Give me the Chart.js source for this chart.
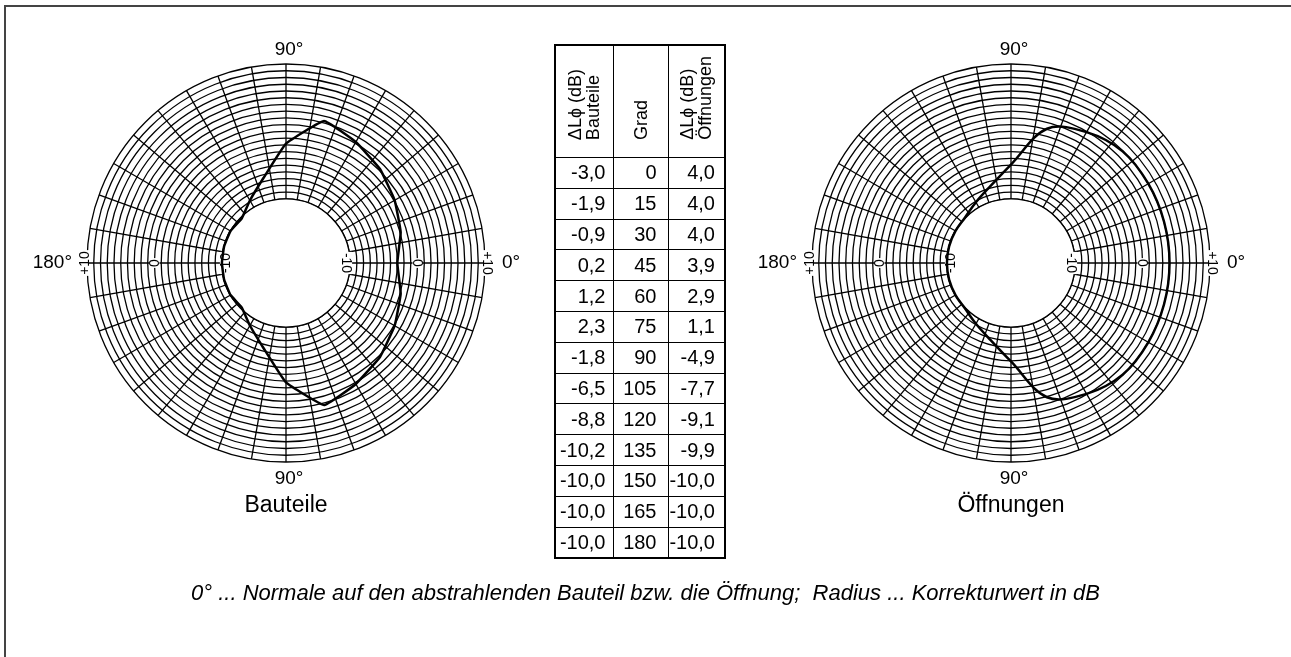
<!DOCTYPE html>
<html>
<head>
<meta charset="utf-8">
<script src="https://cdn.jsdelivr.net/npm/chart.js@4.4.1/dist/chart.umd.min.js"></script>
<style>
  html, body { margin: 0; padding: 0; background: #fff; overflow: hidden; }
  body { width: 1291px; height: 657px; position: relative; font-family: "Liberation Sans", Arial, sans-serif; color: #000; }
  .frame { position: absolute; left: 4px; top: 5px; width: 1400px; height: 800px; border-left: 2px solid #444; border-top: 2px solid #444; }
  canvas.polar { position: absolute; left: 0; top: 0; }
  .caption { position: absolute; top: 491px; width: 200px; text-align: center; font-size: 23px; }
  .footer { position: absolute; left: 0; width: 1291px; top: 580px; text-align: center; font-size: 22px; font-style: italic; white-space: pre; }
  #tbl { position: absolute; left: 554px; top: 44px; border-collapse: collapse; border: 2px solid #000; font-size: 20px; }
  #tbl th, #tbl td { border: 1px solid #000; padding: 0; }
  #tbl th { height: 94px; vertical-align: bottom; font-weight: normal; padding-bottom: 17px; }
  #tbl td { height: 29.8px; text-align: right; line-height: 29px; }
  .vt { writing-mode: vertical-rl; transform: rotate(180deg); font-size: 18px; line-height: 18px; text-align: left; margin: 0 auto; }
</style>
</head>
<body>
<div class="frame"></div>
<canvas class="polar" id="polarA" width="1291" height="657"></canvas>
<canvas class="polar" id="polarB" width="1291" height="657"></canvas>

<table id="tbl">
  <colgroup><col style="width:58px"><col style="width:55px"><col style="width:57px"></colgroup>
  <thead>
    <tr>
      <th><div class="vt">ΔLϕ (dB)<br>Bauteile</div></th>
      <th><div class="vt">Grad</div></th>
      <th><div class="vt">ΔLϕ (dB)<br>Öffnungen</div></th>
    </tr>
  </thead>
  <tbody id="tbody"></tbody>
</table>

<div class="caption" style="left:186px">Bauteile</div>
<div class="caption" style="left:911px">Öffnungen</div>
<div class="footer">0° ... Normale auf den abstrahlenden Bauteil bzw. die Öffnung;  Radius ... Korrekturwert in dB</div>

<script>
const angles = [0, 15, 30, 45, 60, 75, 90, 105, 120, 135, 150, 165, 180];
const bauteile = [-3.0, -1.9, -0.9, 0.2, 1.2, 2.3, -1.8, -6.5, -8.8, -10.2, -10.0, -10.0, -10.0];
const oeffnungen = [4.0, 4.0, 4.0, 3.9, 2.9, 1.1, -4.9, -7.7, -9.1, -9.9, -10.0, -10.0, -10.0];
const ringTickValues = [-10, 0, 10];
const ringTickLabels = ['-10', '0', '+10'];

const fmt = v => v.toFixed(1).replace('.', ',');

// fill the table
const tbody = document.getElementById('tbody');
angles.forEach((a, i) => {
    const tr = document.createElement('tr');
    tr.innerHTML = `<td style="padding-right:7px">${fmt(bauteile[i])}</td>` +
                   `<td style="padding-right:11px">${a}</td>` +
                   `<td style="padding-right:9px">${fmt(oeffnungen[i])}</td>`;
    tbody.appendChild(tr);
});

// 5 degree steps all around, clockwise from the right (0..355)
const stepLabels = [];
for (let i = 0; i < 72; i++) stepLabels.push(i * 5);

// mirror the 0..180 values onto both halves of the circle
function expand(series) {
    return stepLabels.map(deg => {
        const a = deg <= 180 ? deg : 360 - deg;
        const idx = angles.indexOf(a);
        return idx >= 0 ? series[idx] : null;
    });
}

const polarDecor = {
    id: 'polarDecor',
    beforeDatasetsDraw(chart) {
        const r = chart.scales.r;
        const ctx = chart.ctx;
        const inner = r.getDistanceFromCenterForValue(-10);
        ctx.save();
        // blank centre
        ctx.fillStyle = '#fff';
        ctx.beginPath();
        ctx.arc(r.xCenter, r.yCenter, inner, 0, Math.PI * 2);
        ctx.fill();
        ctx.strokeStyle = '#000';
        ctx.lineWidth = 1.3;
        ctx.beginPath();
        ctx.arc(r.xCenter, r.yCenter, inner, 0, Math.PI * 2);
        ctx.stroke();

        // rotated ring labels on the horizontal axis
        ctx.font = '14px "Liberation Sans", Arial, sans-serif';
        ctx.textAlign = 'center';
        ctx.textBaseline = 'middle';
        const shift = [-3, 0, 3];
        ringTickValues.forEach((v, k) => {
            const d = r.getDistanceFromCenterForValue(v) + shift[k];
            [[0, Math.PI / 2], [36, -Math.PI / 2]].forEach(([idx, rot]) => {
                const p = r.getPointPosition(idx, d);
                const w = ctx.measureText(ringTickLabels[k]).width;
                ctx.save();
                ctx.translate(p.x, p.y);
                ctx.rotate(rot);
                ctx.fillStyle = '#fff';
                ctx.fillRect(-w / 2 - 1, -5, w + 2, 10);
                ctx.fillStyle = '#000';
                ctx.fillText(ringTickLabels[k], 0, 1);
                ctx.restore();
            });
        });
        ctx.restore();
    },
    afterDraw(chart) {
        const r = chart.scales.r;
        const ctx = chart.ctx;
        const R = r.drawingArea;
        ctx.save();
        ctx.font = '19px "Liberation Sans", Arial, sans-serif';
        ctx.fillStyle = '#000';
        ctx.textBaseline = 'middle';
        let p = r.getPointPosition(54, R + 14);
        ctx.textAlign = 'center';
        ctx.fillText('90°', p.x + 3, p.y);
        p = r.getPointPosition(18, R + 17);
        ctx.fillText('90°', p.x + 3, p.y);
        p = r.getPointPosition(0, R + 17);
        ctx.textAlign = 'left';
        ctx.fillText('0°', p.x, p.y);
        p = r.getPointPosition(36, R + 15);
        ctx.textAlign = 'right';
        ctx.fillText('180°', p.x, p.y);
        ctx.restore();
    }
};

function makePolar(id, series, pad, tension) {
    return new Chart(document.getElementById(id), {
        type: 'radar',
        data: {
            labels: stepLabels,
            datasets: [{
                data: expand(series),
                borderColor: '#000',
                borderWidth: 2.5,
                backgroundColor: 'rgba(0,0,0,0)',
                fill: false,
                pointRadius: 0,
                spanGaps: true,
                tension: tension
            }]
        },
        options: {
            responsive: false,
            animation: false,
            events: [],
            layout: { padding: pad },
            plugins: { legend: { display: false }, tooltip: { enabled: false } },
            scales: {
                r: {
                    min: -19.5,
                    max: 10,
                    startAngle: 90,
                    ticks: { display: false, stepSize: 1 },
                    pointLabels: { display: false },
                    grid: {
                        circular: true,
                        color: '#000',
                        lineWidth: c => (c.tick && Number.isInteger(c.tick.value) && c.tick.value >= -10) ? 1.3 : 0
                    },
                    angleLines: {
                        color: '#000',
                        lineWidth: c => c.index % 2 ? 0 : 1.3
                    }
                }
            }
        },
        plugins: [polarDecor]
    });
}

makePolar('polarA', bauteile, { left: 87, top: 64, right: 806, bottom: 195 }, 0.1);
makePolar('polarB', oeffnungen, { left: 812, top: 64, right: 81, bottom: 195 }, 0.35);
</script>
</body>
</html>
